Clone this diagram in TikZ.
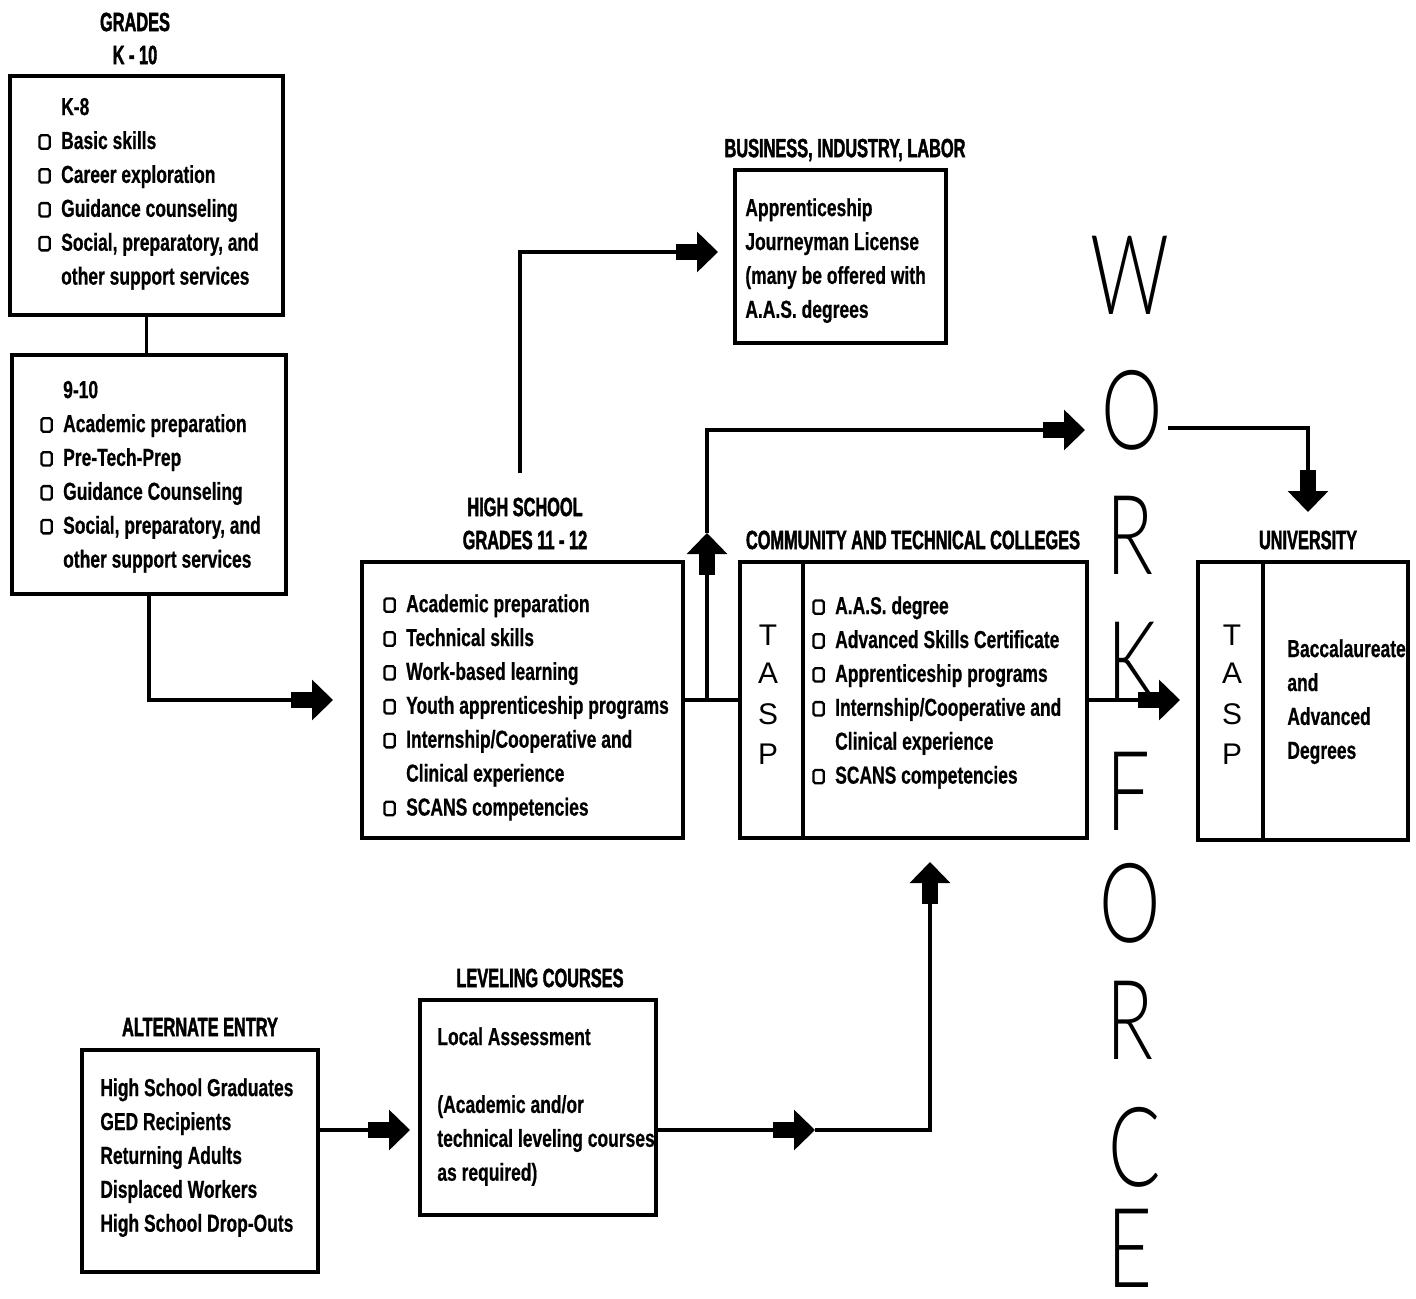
\documentclass[tikz,border=0pt]{standalone}
\usepackage{fontspec}
\setmainfont{Liberation Sans}
\newfontfamily\bodyf{Liberation Sans}[FakeStretch=0.71,FakeBold=0.6]
\newfontfamily\titlef{Liberation Sans}[FakeStretch=0.62,FakeBold=1.6]
\newfontfamily\wff{Lato Light}
\usetikzlibrary{arrows.meta,fit}
\newcommand\sq{\makebox[13pt][l]{\tikz[baseline=0pt]\draw[line width=1.3pt,rounded corners=1pt](0pt,0.2pt) rectangle (5.8pt,7.8pt);}}
\newcommand\ind{\hspace*{13pt}}
\newcommand\wl[1]{\scalebox{0.7}[1]{#1}}
\tikzset{
  box/.style={draw, line width=0.08cm, inner sep=0pt},
  divl/.style={line width=0.07cm},
  txt/.style={anchor=north west, inner sep=0pt, align=left, font=\bodyf\bfseries\fontsize{14}{19.3}\selectfont},
  ttl/.style={inner sep=0pt, font=\titlef\bfseries\fontsize{15}{18}\selectfont},
  tasp/.style={inner sep=0pt, font=\fontsize{17}{20}\selectfont},
  wfl/.style={inner sep=0pt, font=\wff\fontsize{63}{63}\selectfont},
  conn/.style={line width=0.07cm},
  blk/.style={conn, -{Rectangle[length=0.44cm,width=0.32cm,sep=-0.5pt]Triangle[length=0.42cm,width=0.8cm]}},
}
\begin{document}
\begin{tikzpicture}[x=0.02cm,y=-0.02cm]
\useasboundingbox (0,0) rectangle (1416,1298);

% titles
\node[ttl] (tg1) at (135,22) {GRADES};
\node[ttl] (tg2) at (135,55) {K - 10};
\node[ttl] (tbus) at (845,150) {BUSINESS, INDUSTRY, LABOR};
\node[ttl] (ths1) at (525,507) {HIGH SCHOOL};
\node[ttl] (ths2) at (525,540) {GRADES 11 - 12};
\node[ttl] (tctc) at (913,540) {COMMUNITY AND TECHNICAL COLLEGES};
\node[ttl] (tuni) at (1308,540) {UNIVERSITY};
\node[ttl] (tlev) at (540,978) {LEVELING COURSES};
\node[ttl] (tae) at (200,1027) {ALTERNATE ENTRY};

% boxes
\node[box, fit={(10,76)(283,315)}] (k8) {};
\node[box, fit={(12,355)(286,594)}] (g910) {};
\node[box, fit={(362,562)(683,838)}] (hs) {};
\node[box, fit={(735,170)(946,343)}] (bus) {};
\node[box, fit={(740,562)(1087,838)}] (ctc) {};
\node[box, fit={(1198,562)(1408,840)}] (uni) {};
\node[box, fit={(420,1000)(656,1215)}] (lev) {};
\node[box, fit={(82,1050)(318,1272)}] (ae) {};
\draw[divl] (803,562) -- (803,838);
\draw[divl] (1263,562) -- (1263,840);

% box texts
\node[txt] (k8t) at (38,91) {\strut\ind K-8\\\sq Basic skills\\\sq Career exploration\\\sq Guidance counseling\\\sq Social, preparatory, and\\\ind other support services};
\node[txt] (g910t) at (40,374) {\strut\ind 9-10\\\sq Academic preparation\\\sq Pre-Tech-Prep\\\sq Guidance Counseling\\\sq Social, preparatory, and\\\ind other support services};
\node[txt] (hst) at (383,588) {\strut\sq Academic preparation\\\sq Technical skills\\\sq Work-based learning\\\sq Youth apprenticeship programs\\\sq Internship/Cooperative and\\\ind Clinical experience\\\sq SCANS competencies};
\node[txt] (bust) at (745,192) {\strut Apprenticeship\\Journeyman License\\(many be offered with\\A.A.S. degrees};
\node[txt] (ctct) at (812,590) {\strut\sq A.A.S. degree\\\sq Advanced Skills Certificate\\\sq Apprenticeship programs\\\sq Internship/Cooperative and\\\ind Clinical experience\\\sq SCANS competencies};
\node[txt] (unit) at (1287,633) {\strut Baccalaureate\\and\\Advanced\\Degrees};
\node[txt] (levt) at (437,1021) {\strut Local Assessment\\\mbox{}\\(Academic and/or\\technical leveling courses\\as required)};
\node[txt] (aet) at (100,1072) {\strut High School Graduates\\GED Recipients\\Returning Adults\\Displaced Workers\\High School Drop-Outs};

% TASP
\node[tasp] (c1) at (768,635) {T};
\node[tasp] (c2) at (768,673) {A};
\node[tasp] (c3) at (768,714) {S};
\node[tasp] (c4) at (768,754) {P};
\node[tasp] (u1) at (1232,635) {T};
\node[tasp] (u2) at (1232,673) {A};
\node[tasp] (u3) at (1232,714) {S};
\node[tasp] (u4) at (1232,754) {P};

% WORKFORCE
\node[wfl] (w1) at (1130,275) {\wl{W}};
\node[wfl] (w2) at (1132,410) {\wl{O}};
\node[wfl] (w3) at (1130,535) {\wl{R}};
\node[wfl] (w4) at (1132,661) {\wl{K}};
\node[wfl] (w5) at (1128,791) {\wl{F}};
\node[wfl] (w6) at (1130,903) {\wl{O}};
\node[wfl] (w7) at (1130,1020) {\wl{R}};
\node[wfl] (w8) at (1135,1147) {\wl{C}};
\node[wfl] (w9) at (1130,1248) {\wl{E}};

% connector coordinates
\coordinate (a1) at (333,700);
\coordinate (j) at (707,700);
\coordinate (up1) at (707,533);
\coordinate (a2) at (1085,430);
\coordinate (b0) at (520,473);
\coordinate (a3) at (718,252);
\coordinate (a4) at (1180,700);
\coordinate (o0) at (1168,428);
\coordinate (a5) at (1308,512);
\coordinate (a6) at (410,1130);
\coordinate (a7) at (815,1130);
\coordinate (a8) at (930,862);

% connectors
\draw[conn] (k8.south) -- (k8.south |- g910.north);
\draw[blk] (g910.south) |- (a1);
\draw[conn] (hs.east) -- (ctc.west);
\draw[blk] (j) -- (up1);
\draw[blk] (up1) |- (a2);
\draw[blk] (b0) |- (a3);
\draw[blk] (ctc.east) -- (a4);
\draw[blk] (o0) -| (a5);
\draw[blk] (ae.east |- a6) -- (a6);
\draw[blk] (lev.east |- a7) -- (a7);
\draw[blk] (a7) -| (a8);
\end{tikzpicture}
\end{document}
